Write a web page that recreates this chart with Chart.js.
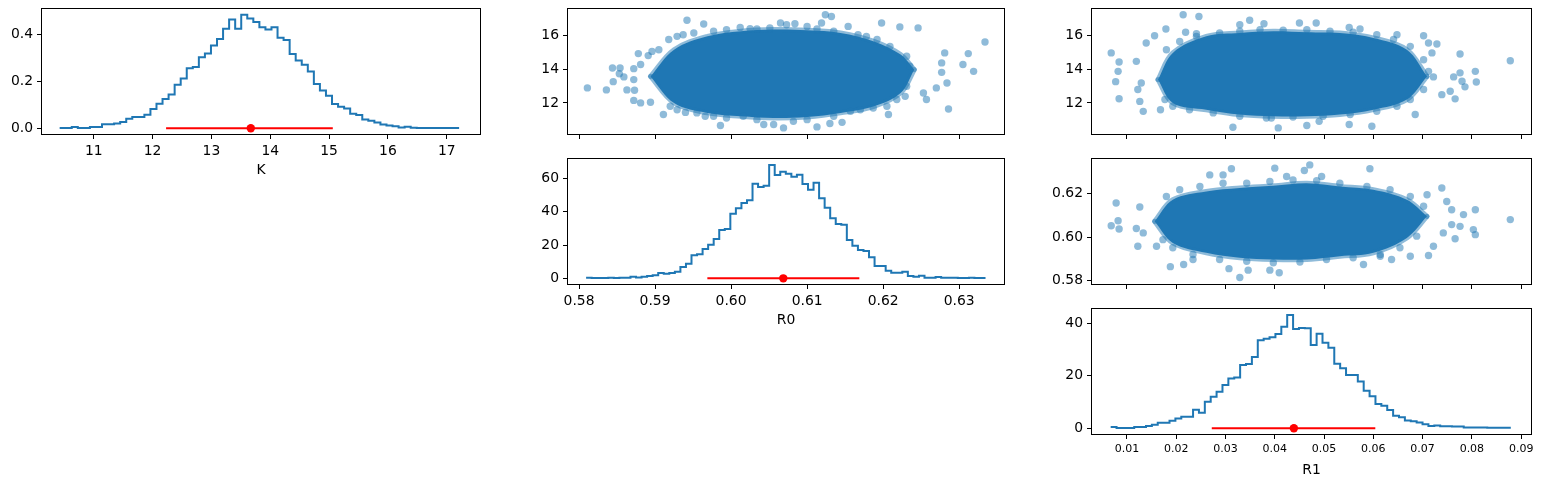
<!DOCTYPE html>
<html>
<head>
<meta charset="utf-8">
<script src="https://cdn.jsdelivr.net/npm/chart.js@4.4.1/dist/chart.umd.min.js"></script>
<style>
  body { margin: 0; background: #fff; width: 1545px; height: 487px; position: relative; overflow: hidden; }
  canvas { position: absolute; }
</style>
</head>
<body>
<canvas id="kHist"></canvas>
<canvas id="r0kCloud"></canvas>
<canvas id="r1kCloud"></canvas>
<canvas id="r0Hist"></canvas>
<canvas id="r1r0Cloud"></canvas>
<canvas id="r1Hist"></canvas>
<script>
// ---- data ----
// histogram densities (equal bins between first and last edge)
const kEdges = [10.42, 17.21];
const kDensity = [0.001, 0.001, 0.005, 0.001, 0.001, 0.005, 0.005, 0.017, 0.017, 0.020,
  0.027, 0.040, 0.048, 0.048, 0.058, 0.082, 0.104, 0.125, 0.144, 0.185,
  0.212, 0.256, 0.261, 0.302, 0.318, 0.353, 0.380, 0.424, 0.463, 0.424,
  0.484, 0.467, 0.453, 0.430, 0.421, 0.430, 0.385, 0.376, 0.316, 0.289,
  0.271, 0.242, 0.188, 0.161, 0.138, 0.103, 0.092, 0.084, 0.062, 0.056,
  0.037, 0.032, 0.024, 0.016, 0.012, 0.009, 0.003, 0.006, 0.002, 0.001,
  0.001, 0.001, 0.001, 0.001, 0.001, 0.001];

const r0Edges = [0.58093, 0.63347];
const r0Density = [0.3, 0.2, 0.2, 0.2, 0.3, 0.2, 0.3, 0.3, 1.0, 0.5,
  1.0, 1.4, 1.8, 3.2, 2.8, 3.2, 4.0, 6.8, 8.8, 13.8,
  14.4, 17.6, 20.2, 23.6, 29.0, 29.6, 38.8, 42.0, 45.2, 46.8,
  56.8, 54.8, 55.6, 68.0, 62.0, 64.0, 62.8, 61.0, 62.2, 56.6,
  53.2, 57.4, 48.0, 42.4, 36.0, 32.6, 32.2, 23.0, 19.6, 17.0,
  16.4, 12.6, 7.4, 7.4, 4.6, 3.4, 3.4, 4.0, 1.4, 1.0,
  1.6, 0.4, 0.4, 0.8, 0.4, 0.3, 0.3, 0.2, 0.2, 0.3, 0.2, 0.2];

const r1Edges = [0.00669, 0.0879];
const r1Density = [0.5, 0.1, 0.1, 0.1, 0.5, 0.5, 0.9, 1.4, 2.1, 2.1,
  2.9, 3.7, 4.4, 4.4, 7.1, 5.9, 10.1, 12.0, 13.9, 16.5,
  19.0, 19.4, 24.1, 24.5, 27.2, 33.5, 34.1, 34.7, 35.9, 38.7,
  43.2, 37.8, 38.2, 38.1, 31.7, 36.0, 32.6, 30.7, 24.6, 22.9,
  20.3, 20.3, 17.8, 14.3, 12.2, 9.3, 8.6, 7.0, 4.8, 4.2,
  3.0, 2.7, 2.2, 1.5, 0.9, 1.1, 0.8, 0.8, 0.7, 0.7,
  0.3, 0.3, 0.3, 0.3, 0.2, 0.2, 0.2, 0.2];

// [low, median, high] marker on each histogram
const kInterval = [12.229, 13.669, 15.063];
const r0Interval = [0.59688, 0.60687, 0.61687];
const r1Interval = [0.02721, 0.04387, 0.06040];

// dense cores of the scatter clouds: x samples with upper / lower edge
const r0kCoreX = [0.5894, 0.5925, 0.5969, 0.6013, 0.6056, 0.6100, 0.6144, 0.6188, 0.6223, 0.6241];
const r0kCoreUp = [13.57, 15.15, 15.94, 16.24, 16.34, 16.30, 16.14, 15.64, 14.86, 13.97];
const r0kCoreLo = [13.57, 12.00, 11.41, 11.21, 11.11, 11.17, 11.41, 11.80, 12.59, 13.97];

const r1kCoreX = [0.0163, 0.0193, 0.0261, 0.0329, 0.0397, 0.0465, 0.0532, 0.0600, 0.0668, 0.0709];
const r1kCoreUp = [13.38, 14.96, 15.94, 16.14, 16.24, 16.18, 16.14, 15.85, 15.15, 13.57];
const r1kCoreLo = [13.38, 12.00, 11.60, 11.31, 11.21, 11.21, 11.31, 11.60, 12.20, 13.57];

const r1r0CoreX = [0.0156, 0.0193, 0.0261, 0.0329, 0.0397, 0.0465, 0.0532, 0.0600, 0.0668, 0.0709];
const r1r0CoreUp = [0.6073, 0.6172, 0.6210, 0.6226, 0.6236, 0.6248, 0.6233, 0.6218, 0.6172, 0.6096];
const r1r0CoreLo = [0.6073, 0.5974, 0.5929, 0.5906, 0.5898, 0.5898, 0.5913, 0.5929, 0.5997, 0.6096];

// scattered samples outside / along the edge of the cores
const r0kPoints = [[0.5811,12.89],[0.5836,12.77],[0.5844,14.07],[0.5845,13.26],[0.5854,14.07],[0.5853,13.73],
  [0.5859,13.54],[0.5863,12.77],[0.5872,14.03],[0.5872,13.38],[0.5872,12.15],[0.5873,12.75],[0.5878,14.92],
  [0.5881,12.0],[0.5881,14.27],[0.5891,14.8],[0.5894,12.04],[0.5896,15.05],[0.5905,15.15],[0.5911,11.31],
  [0.5942,16.89],[0.5964,16.67],[0.5937,16.04],[0.6012,16.47],[0.6025,16.40],[0.6065,16.73],[0.6073,16.63],
  [0.6084,16.69],[0.6124,17.22],[0.6132,17.12],[0.6119,16.73],[0.6154,16.53],[0.6167,16.04],[0.6198,16.73],
  [0.6222,16.50],[0.6246,16.44],[0.6334,15.61],[0.6281,14.96],[0.6312,14.92],[0.6305,14.27],[0.6319,13.87],
  [0.6277,14.37],[0.6277,13.81],[0.6284,13.18],[0.6270,12.89],[0.6257,12.20],[0.6286,11.64],[0.6253,12.59],
  [0.6229,12.39],[0.5986,10.66],[0.6043,10.72],[0.6056,10.72],[0.6069,10.52],[0.6113,10.58],[0.6130,10.78],
  [0.6146,10.85],[0.5977,11.21],[0.5966,11.21],[0.5940,11.44],[0.6207,11.31],
  [0.5918,15.75],[0.5929,15.94],[0.5951,16.14],[0.5977,16.24],[0.5994,16.34],[0.6034,16.38],[0.6051,16.44],
  [0.6100,16.53],[0.6113,16.38],[0.6135,16.24],[0.6178,15.94],[0.6192,15.75],[0.6209,15.35],[0.6231,14.76],
  [0.6235,14.17],[0.5920,11.80],[0.5929,11.60],[0.5955,11.41],[0.5994,11.11],[0.6016,11.21],[0.6034,11.01],
  [0.6082,10.91],[0.6100,11.01],[0.6135,11.21],[0.6157,11.50],[0.6170,11.60],[0.6187,11.70],[0.6205,11.80],
  [0.6218,12.20],[0.6231,12.98]];

const r1kPoints = [[0.0068,14.96],[0.0084,14.42],[0.0082,13.87],[0.0077,13.26],[0.0084,12.25],[0.0119,14.46],
  [0.0122,12.79],[0.0129,13.18],[0.0126,12.09],[0.0133,11.50],[0.0139,15.55],[0.0156,15.98],[0.0179,16.38],
  [0.0168,11.60],[0.0214,17.22],[0.0246,17.12],[0.0219,16.18],[0.0241,16.10],[0.0315,10.56],[0.0349,16.89],
  [0.0329,16.63],[0.0378,16.69],[0.0393,11.11],[0.0407,10.52],[0.0450,16.73],[0.0484,16.73],[0.0465,10.66],
  [0.0490,10.91],[0.0551,16.47],[0.0551,10.72],[0.0573,16.38],[0.0597,10.62],[0.0648,16.04],[0.0685,11.31],
  [0.0702,15.98],[0.0712,15.55],[0.0729,15.49],[0.0719,14.96],[0.0776,14.90],[0.0807,13.87],[0.0809,13.24],
  [0.0786,12.95],[0.0766,12.24],[0.0756,12.69],[0.0739,12.49],[0.0878,14.50],[0.0776,13.78],[0.0780,13.28],
  [0.0722,13.54],[0.0763,13.54],
  [0.0180,15.15],[0.0207,15.64],[0.0241,15.94],[0.0288,16.14],[0.0329,16.24],[0.0370,16.34],[0.0417,16.30],
  [0.0465,16.34],[0.0512,16.24],[0.0559,16.18],[0.0607,16.04],[0.0641,15.75],[0.0675,15.35],[0.0702,14.56],
  [0.0712,13.87],[0.0177,12.20],[0.0193,11.80],[0.0227,11.60],[0.0275,11.41],[0.0329,11.21],[0.0383,11.11],
  [0.0437,11.17],[0.0498,11.21],[0.0553,11.31],[0.0607,11.50],[0.0648,11.80],[0.0675,12.20],[0.0702,12.79]];

const r1r0Points = [[0.0068,0.6053],[0.0078,0.6157],[0.0082,0.6076],[0.0084,0.6038],[0.0119,0.6040],
  [0.0126,0.6139],[0.0122,0.5959],[0.0133,0.6020],[0.0160,0.5959],[0.0188,0.5865],[0.0215,0.5875],
  [0.0234,0.5898],[0.0268,0.6286],[0.0295,0.6286],[0.0312,0.6314],[0.0307,0.5856],[0.0329,0.5815],
  [0.0346,0.5849],[0.0390,0.5849],[0.0400,0.6317],[0.0409,0.5837],[0.0424,0.6279],[0.0460,0.6306],
  [0.0471,0.6332],[0.0495,0.6279],[0.0593,0.6314],[0.0580,0.5875],[0.0614,0.5913],[0.0637,0.5898],
  [0.0675,0.5913],[0.0712,0.5916],[0.0739,0.6226],[0.0749,0.6164],[0.0759,0.6126],[0.0766,0.5993],
  [0.0776,0.6050],[0.0783,0.6104],[0.0803,0.6035],[0.0807,0.6012],[0.0807,0.6126],[0.0878,0.6081],
  [0.0709,0.6195],[0.0759,0.6058],[0.0742,0.6020],[0.0722,0.5959],
  [0.0180,0.6187],[0.0207,0.6218],[0.0248,0.6233],[0.0295,0.6248],[0.0343,0.6248],[0.0390,0.6256],
  [0.0437,0.6263],[0.0485,0.6260],[0.0532,0.6248],[0.0587,0.6233],[0.0634,0.6218],[0.0675,0.6187],
  [0.0702,0.6142],[0.0173,0.5989],[0.0193,0.5952],[0.0234,0.5921],[0.0288,0.5898],[0.0343,0.5890],
  [0.0397,0.5883],[0.0451,0.5886],[0.0505,0.5898],[0.0559,0.5906],[0.0614,0.5921],[0.0654,0.5952],
  [0.0688,0.6005]];

// axis ticks
const kTicks = [11, 12, 13, 14, 15, 16, 17];
const kCloudTicks = [12, 14, 16];
const r0Ticks = [0.58, 0.59, 0.60, 0.61, 0.62, 0.63];
const r0CloudTicks = [0.58, 0.60, 0.62];
const r1Ticks = [0.01, 0.02, 0.03, 0.04, 0.05, 0.06, 0.07, 0.08, 0.09];
const kDensTicks = [0.0, 0.2, 0.4];
const r0DensTicks = [0, 20, 40, 60];
const r1DensTicks = [0, 20, 40];

// ---- drawing ----
const BLUE = '#1f77b4';
const HALF = 'rgba(31,119,180,0.5)';
const FS = 13.9;
Chart.defaults.font.family = '"DejaVu Sans", sans-serif';
Chart.defaults.font.size = FS;
Chart.defaults.color = '#000';

const LEFT = 50, TOP = 16, RIGHT = 24;

const frame = {
  id: 'frame',
  afterDraw(c) {
    const a = c.chartArea, ctx = c.ctx;
    ctx.save();
    ctx.strokeStyle = '#000';
    ctx.lineWidth = 1;
    ctx.strokeRect(a.left - 0.5, a.top - 0.5, a.right - a.left + 1, a.bottom - a.top + 1);
    ctx.restore();
  }
};

function axis(min, max, ticks, dec, o) {
  return {
    type: 'linear', min: min, max: max,
    afterBuildTicks: a => { a.ticks = ticks.map(v => ({ value: v })); },
    afterFit: a => { if (a.isHorizontal()) a.height = o.size; else a.width = o.size; },
    grid: { drawOnChartArea: false, drawTicks: true, tickLength: 5, tickColor: '#000', tickWidth: 1 },
    border: { display: false },
    ticks: {
      padding: 4, color: '#000', autoSkip: false, maxRotation: 0,
      font: { size: o.font || FS },
      callback: v => o.hide ? '' : v.toFixed(dec)
    },
    title: o.title
      ? { display: true, text: o.title, color: '#000', font: { size: FS }, padding: { top: 0, bottom: 0 } }
      : { display: false }
  };
}

function makeChart(id, fx, fy, fw, fh, bottom, datasets, xs, ys) {
  const cv = document.getElementById(id);
  cv.width = fw + LEFT + RIGHT;
  cv.height = fh + TOP + bottom;
  cv.style.left = (fx - LEFT) + 'px';
  cv.style.top = (fy - TOP) + 'px';
  new Chart(cv, {
    type: 'line',
    data: { datasets: datasets },
    options: {
      responsive: false, animation: false, events: [],
      layout: { padding: { top: TOP, right: RIGHT, left: 0, bottom: 0 } },
      plugins: { legend: { display: false }, tooltip: { enabled: false } },
      scales: { x: xs, y: ys }
    },
    plugins: [frame]
  });
}

function histSets(edges, dens, iv) {
  const w = (edges[1] - edges[0]) / dens.length;
  const pts = dens.map((v, i) => ({ x: edges[0] + i * w, y: v }));
  pts.push({ x: edges[1], y: dens[dens.length - 1] });
  return [
    { data: [{ x: iv[1], y: 0 }], showLine: false, pointRadius: 4.2, pointBackgroundColor: '#ff0000', pointBorderWidth: 0 },
    { data: [{ x: iv[0], y: 0 }, { x: iv[2], y: 0 }], borderColor: '#ff0000', borderWidth: 2, pointRadius: 0 },
    { data: pts, borderColor: BLUE, borderWidth: 2, pointRadius: 0, stepped: 'before', fill: false }
  ];
}

function cloudSets(cx, up, lo, pts) {
  return [
    { data: pts.map(p => ({ x: p[0], y: p[1] })), showLine: false, pointRadius: 3.7,
      pointBackgroundColor: HALF, pointBorderWidth: 0 },
    { data: cx.map((x, i) => ({ x: x, y: up[i] })), borderColor: HALF, borderWidth: 5,
      borderCapStyle: 'round', pointRadius: 0, tension: 0.35, fill: false },
    { data: cx.map((x, i) => ({ x: x, y: lo[i] })), borderColor: HALF, borderWidth: 5,
      borderCapStyle: 'round', pointRadius: 0, tension: 0.35, fill: '-1', backgroundColor: BLUE }
  ];
}

const kRange = [10.12, 17.565];
const r0Range = [0.57855, 0.63590];
const r1Range = [0.0029, 0.0920];

// column / row frames
const C1 = 42, C2 = 568, C3 = 1092, W1 = 438, W2 = 436, W3 = 439;
const R1Y = 9, R2Y = 159, R3Y = 309, H = 125;

makeChart('kHist', C1, R1Y, W1, H, 45, histSets(kEdges, kDensity, kInterval),
  axis(kRange[0], kRange[1], kTicks, 0, { size: 45, title: 'K' }),
  axis(-0.0245, 0.508, kDensTicks, 1, { size: LEFT }));

makeChart('r0kCloud', C2, R1Y, W2, H, 20, cloudSets(r0kCoreX, r0kCoreUp, r0kCoreLo, r0kPoints),
  axis(r0Range[0], r0Range[1], r0Ticks, 2, { size: 20, hide: true }),
  axis(10.16, 17.56, kCloudTicks, 0, { size: LEFT }));

makeChart('r1kCloud', C3, R1Y, W3, H, 20, cloudSets(r1kCoreX, r1kCoreUp, r1kCoreLo, r1kPoints),
  axis(r1Range[0], r1Range[1], r1Ticks, 2, { size: 20, hide: true }),
  axis(10.16, 17.56, kCloudTicks, 0, { size: LEFT }));

makeChart('r0Hist', C2, R2Y, W2, H, 45, histSets(r0Edges, r0Density, r0Interval),
  axis(r0Range[0], r0Range[1], r0Ticks, 2, { size: 45, title: 'R0' }),
  axis(-3.4, 71.6, r0DensTicks, 0, { size: LEFT }));

makeChart('r1r0Cloud', C3, R2Y, W3, H, 20, cloudSets(r1r0CoreX, r1r0CoreUp, r1r0CoreLo, r1r0Points),
  axis(r1Range[0], r1Range[1], r1Ticks, 2, { size: 20, hide: true }),
  axis(r0Range[0], r0Range[1], r0CloudTicks, 2, { size: LEFT }));

makeChart('r1Hist', C3, R3Y, W3, H, 45, histSets(r1Edges, r1Density, r1Interval),
  axis(r1Range[0], r1Range[1], r1Ticks, 2, { size: 45, title: 'R1', font: 11 }),
  axis(-2.17, 45.45, r1DensTicks, 0, { size: LEFT }));
</script>
</body>
</html>
